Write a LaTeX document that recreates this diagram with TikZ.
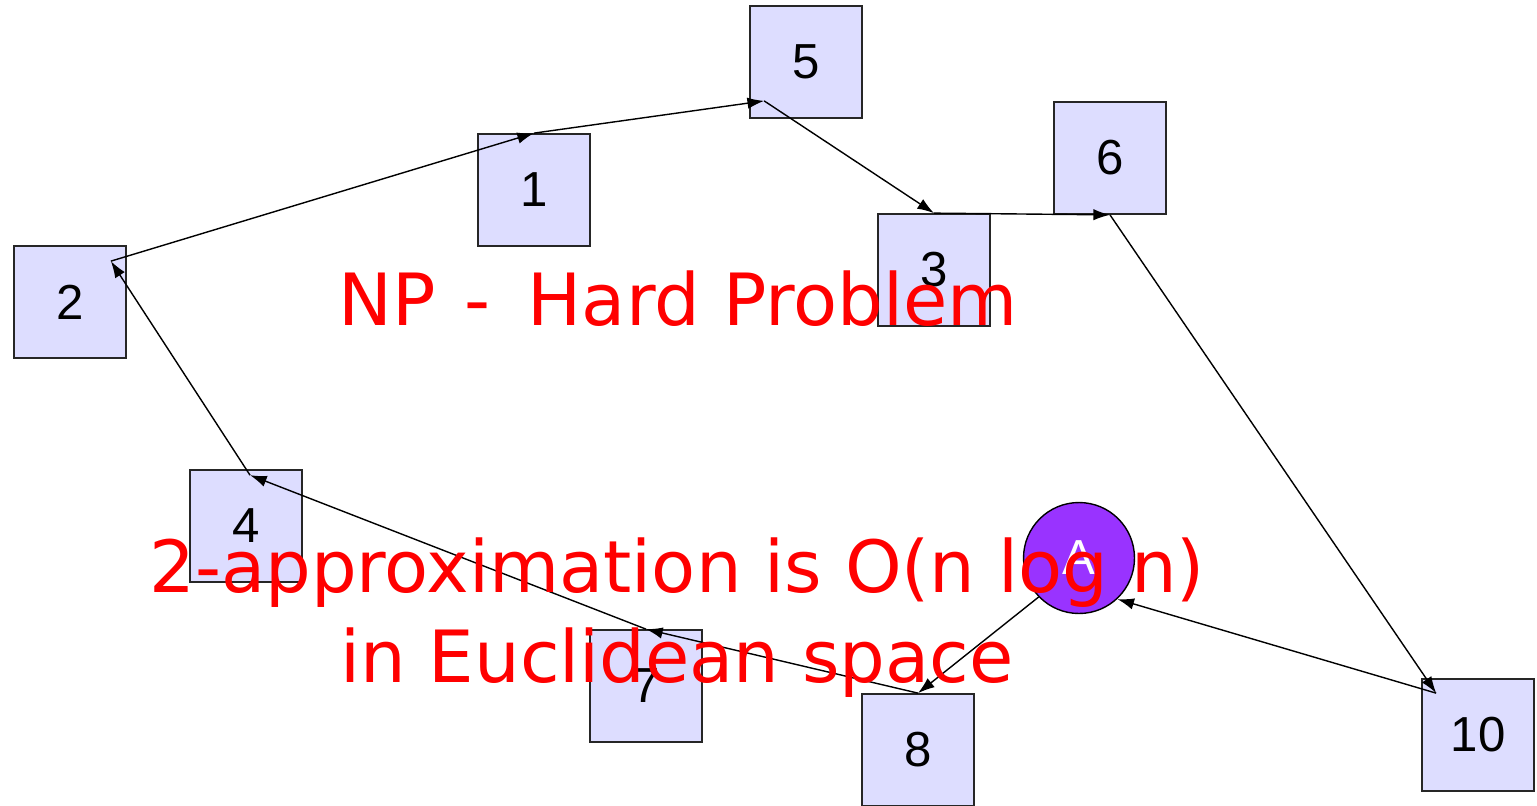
\documentclass[tikz,border=0pt]{standalone}
\usepackage{fontspec}
\setmainfont{Liberation Sans}
\newfontfamily\notefont{DejaVu Sans}
\usetikzlibrary{arrows.meta}
\definecolor{boxfill}{HTML}{DDDDFF}
\definecolor{cityA}{HTML}{9933FF}
\begin{document}
\begin{tikzpicture}[x=0.02cm,y=-0.02cm,
    city/.style={draw=black!85,line width=1pt,fill=boxfill,minimum size=2.24cm,inner sep=0pt,font=\fontsize{28}{32}\selectfont},
    tour/.style={-{Latex[length=9.5pt,width=6.5pt]},line width=0.8pt},
    note/.style={red,font=\notefont\fontsize{41}{50}\selectfont,anchor=base}]
    \useasboundingbox (0,0) rectangle (1537,805);
    % cities
    \node[city] (n5) at (806,62) {5};
    \node[city] (n1) at (534,190) {1};
    \node[city] (n6) at (1110,158) {6};
    \node[city] (n3) at (934,270) {3};
    \node[city] (n2) at (70,302) {2};
    \node[city] (n4) at (246,526) {4};
    \node[city] (n7) at (646,686) {7};
    \node[city] (n8) at (918,750) {8};
    \node[city] (n10) at (1478,735) {10};
    \node[circle,draw,line width=0.8pt,fill=cityA,minimum size=2.22cm,inner sep=0pt,
      text=white,font=\fontsize{28}{32}\selectfont] (A) at (1079,558) {A};
    % tour
    \draw[tour] (n2.north east)++(-16,16) -- (n1.north);
    \draw[tour] (n1.north) -- ([shift={(15,-18)}]n5.south west);
    \draw[tour] (n5.south west)++(15,-18) -- (n3.north);
    \draw[tour] (n3.north) -- (n6.south);
    \draw[tour] (n6.south) -- ([shift={(15,15)}]n10.north west);
    \draw[tour] (n10.north west)++(15,15) -- (A.-47);
    \draw[tour] (A.-136) -- (n8.north);
    \draw[tour] (n8.north) -- (n7.north);
    \draw[tour] (n7.north) -- ([shift={(4,6)}]n4.north);
    \draw[tour] (n4.north)++(4,6) -- ([shift={(-16,16)}]n2.north east);
    % notes
    \node[note] (hard) at (678,325) {NP\hspace{0.08em} - \hspace{0.2em}Hard Problem};
    \node[note] (approx) at (677,592) {2-approximation is O(n log n)};
    \node[note] (eucl) at (677,682) {in Euclidean space};
\end{tikzpicture}
\end{document}
